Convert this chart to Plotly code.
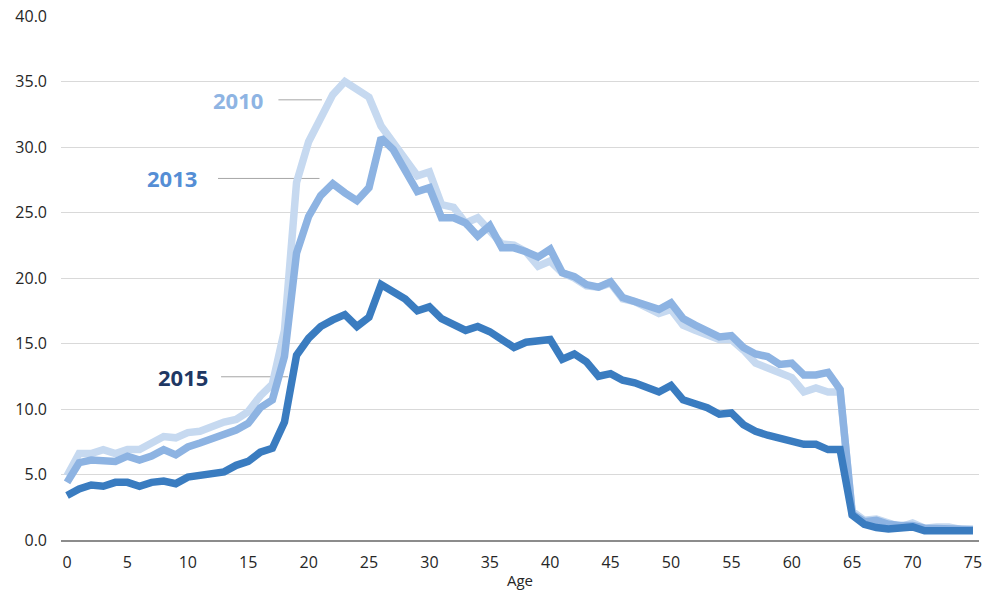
import plotly.graph_objects as go

ages = list(range(0, 76))

y2010 = [4.9, 6.6, 6.6, 6.9, 6.6, 6.9, 6.9, 7.4, 7.9, 7.8,
         8.2, 8.3, 8.7, 9.0, 9.2, 9.8, 11.0, 11.9, 16.0, 27.3,
         30.4, 32.3, 34.0, 35.0, 34.4, 33.8, 31.6, 30.4, 29.2, 27.8,
         28.1, 25.6, 25.4, 24.2, 24.6, 23.6, 22.6, 22.5, 22.0, 20.9,
         21.3, 20.4, 20.0, 19.4, 19.3, 19.6, 18.4, 18.2, 17.8, 17.3,
         17.6, 16.4, 16.0, 15.6, 15.3, 15.3, 14.5, 13.5, 13.1, 12.8,
         12.4, 11.3, 11.6, 11.3, 11.3, 2.2, 1.5, 1.6, 1.3, 1.0,
         1.3, 0.9, 1.0, 1.0, 0.8, 0.8]

y2013 = [4.4, 5.9, 6.1, 6.1, 6.0, 6.4, 6.1, 6.4, 6.9, 6.5,
         7.1, 7.4, 7.7, 8.0, 8.4, 8.9, 10.1, 10.7, 14.0, 21.9,
         24.7, 26.3, 27.2, 26.5, 25.9, 26.9, 30.7, 29.8, 28.2, 26.6,
         26.9, 24.6, 24.6, 24.2, 23.2, 24.0, 22.3, 22.3, 22.0, 21.6,
         22.2, 20.4, 20.1, 19.5, 19.3, 19.7, 18.5, 18.2, 17.9, 17.6,
         18.1, 16.9, 16.4, 15.9, 15.5, 15.6, 14.7, 14.2, 14.0, 13.4,
         13.5, 12.6, 12.6, 12.8, 11.5, 2.0, 1.4, 1.5, 1.2, 1.1,
         1.1, 0.9, 0.9, 0.85, 0.8, 0.8]

y2015 = [3.4, 3.9, 4.2, 4.1, 4.4, 4.4, 4.1, 4.4, 4.5, 4.3,
         4.8, 4.9, 5.1, 5.2, 5.7, 6.0, 6.7, 7.0, 9.0, 14.1,
         15.4, 16.3, 16.8, 17.2, 16.3, 17.0, 19.5, 19.0, 18.4, 17.5,
         17.8, 16.9, 16.4, 16.0, 16.3, 15.9, 15.3, 14.7, 15.1, 15.2,
         15.3, 13.8, 14.2, 13.6, 12.5, 12.7, 12.2, 12.0, 11.6, 11.3,
         11.8, 10.7, 10.4, 10.1, 9.6, 9.7, 8.8, 8.3, 8.0, 7.8,
         7.6, 7.3, 7.3, 6.9, 6.9, 1.9, 1.2, 0.95, 0.85, 0.95,
         1.0, 0.7, 0.75, 0.7, 0.7, 0.7]

series_names = ["2010", "2013", "2015"]
series_values = [y2010, y2013, y2015]
line_colors = ["#c6d9f0", "#8db3e2", "#3a7cc0"]
label_colors = ["#8eb4e3", "#558ed5", "#1f3864"]
# label positions (data coords) and connector extents
label_pos = [(14.15, 33.6), (8.7, 27.6), (9.6, 12.46)]
connector = [(17.5, 21.1), (12.5, 20.9), (12.75, 18.3)]

fig = go.Figure()
for name, vals, col in zip(series_names, series_values, line_colors):
    fig.add_trace(go.Scatter(x=ages, y=vals, mode="lines", name=name,
                             line=dict(color=col, width=7.5),
                             hoverinfo="x+y"))

for name, (lx, ly), (c0, c1), lc in zip(series_names, label_pos, connector, label_colors):
    fig.add_annotation(x=lx, y=ly, text="<b>" + name + "</b>", showarrow=False,
                       font=dict(size=22, color=lc, family="Open Sans"),
                       xanchor="center", yanchor="middle")
    fig.add_shape(type="line", x0=c0, x1=c1, y0=ly, y1=ly,
                  line=dict(color="#a6a6a6", width=1), layer="below")

fig.update_layout(
    width=985, height=590,
    margin=dict(l=61, r=6, t=16, b=50, autoexpand=False),
    paper_bgcolor="white", plot_bgcolor="white",
    showlegend=False,
    font=dict(family="Open Sans", size=16, color="#262626"),
    xaxis=dict(range=[-0.5, 75.5], tickmode="array",
               tickvals=list(range(0, 76, 5)),
               ticktext=[str(v) for v in range(0, 76, 5)],
               showgrid=False, zeroline=False,
               showline=True, linecolor="#8c8c8c", linewidth=1.5,
               ticks="", ticklabelstandoff=7,
               title=dict(text="Age", font=dict(size=15), standoff=4),
               tickfont=dict(size=16)),
    yaxis=dict(range=[0, 40], tickmode="array",
               tickvals=[0, 5, 10, 15, 20, 25, 30, 35, 40],
               ticktext=["0.0", "5.0", "10.0", "15.0", "20.0", "25.0", "30.0", "35.0", "40.0"],
               showgrid=True, gridcolor="#d9d9d9", gridwidth=1,
               zeroline=False, showline=False, ticks="",
               ticklabelstandoff=13, tickfont=dict(size=16)),
)

fig.write_html("out.html",
               config={"displayModeBar": False},
               post_script="document.body.style.margin='0';document.body.style.overflow='hidden';")
